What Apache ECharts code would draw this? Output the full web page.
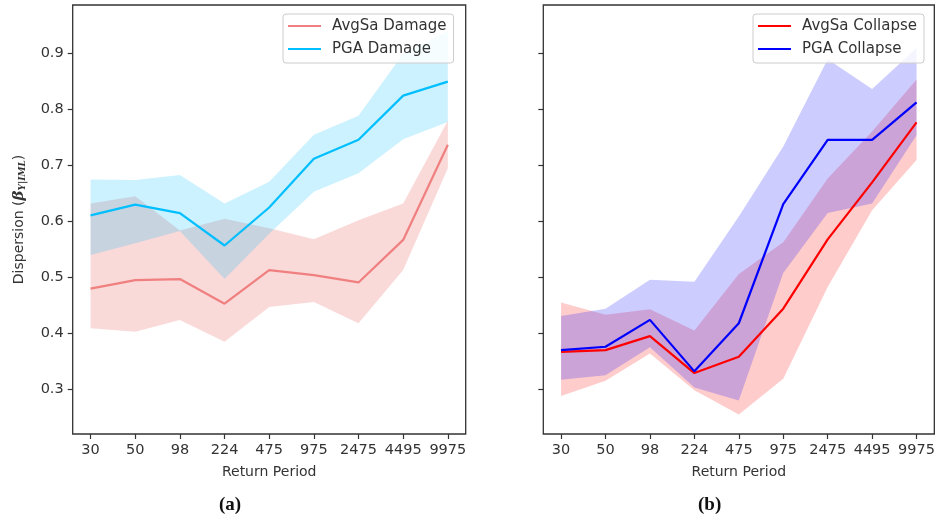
<!DOCTYPE html>
<html><head><meta charset="utf-8">
<script src="https://cdn.jsdelivr.net/npm/echarts@6/dist/echarts.min.js"></script>
<style>html,body{margin:0;padding:0;background:#fff}#c{width:938px;height:521px}</style>
</head><body><div id="c"></div>
<script>
const categories = ['30','50','98','224','475','975','2475','4495','9975'];
const yTicks = [0.3,0.4,0.5,0.6,0.7,0.8,0.9];
// Panel (a): damage
const avgsaDamage      = [0.480,0.495,0.497,0.453,0.513,0.504,0.491,0.567,0.737];
const avgsaDamageLow   = [0.409,0.403,0.424,0.385,0.447,0.456,0.418,0.513,0.695];
const avgsaDamageHigh  = [0.632,0.645,0.584,0.605,0.588,0.568,0.602,0.632,0.780];
const pgaDamage        = [0.611,0.630,0.615,0.557,0.625,0.712,0.746,0.825,0.850];
const pgaDamageLow     = [0.540,0.561,0.583,0.497,0.578,0.653,0.686,0.747,0.778];
const pgaDamageHigh    = [0.675,0.674,0.683,0.632,0.671,0.755,0.789,0.900,0.940];
// Panel (b): collapse
const avgsaCollapse     = [0.367,0.370,0.395,0.329,0.358,0.444,0.568,0.670,0.777];
const avgsaCollapseLow  = [0.288,0.315,0.364,0.298,0.255,0.319,0.483,0.620,0.710];
const avgsaCollapseHigh = [0.455,0.433,0.443,0.405,0.506,0.563,0.677,0.761,0.854];
const pgaCollapse       = [0.370,0.376,0.424,0.332,0.418,0.631,0.746,0.746,0.813];
const pgaCollapseLow    = [0.317,0.325,0.375,0.303,0.280,0.508,0.615,0.632,0.754];
const pgaCollapseHigh   = [0.431,0.444,0.496,0.492,0.609,0.734,0.890,0.837,0.910];

const FONT = '"DejaVu Sans", sans-serif';
const TXT = '#333';
const idx = categories.map((c, i) => i);
const pairs = arr => arr.map((v, i) => [i, v]);

function bandSeries(low, high, fill, gi) {
  return { type: 'custom', xAxisIndex: gi, yAxisIndex: gi, silent: true, z: 1,
    data: low.map((l, i) => [i, l, high[i]]),
    encode: { x: 0, y: [1, 2] },
    renderItem: (params, api) => {
      if (params.dataIndex !== 0) return null;
      const pts = [];
      for (let i = 0; i < low.length; i++) pts.push(api.coord([i, high[i]]));
      for (let i = low.length - 1; i >= 0; i--) pts.push(api.coord([i, low[i]]));
      return { type: 'polygon', shape: { points: pts }, style: { fill } };
    } };
}
function lineSeries(name, vals, color, gi) {
  return { type: 'line', name, xAxisIndex: gi, yAxisIndex: gi, data: pairs(vals), symbol: 'none',
    lineStyle: { color, width: 2.2 }, itemStyle: { color }, z: 5 };
}
function xAx(gi) {
  return { type: 'value', gridIndex: gi, min: -0.4, max: 8.4,
    name: 'Return Period', nameLocation: 'middle', nameGap: 31,
    nameTextStyle: { fontFamily: FONT, fontSize: 14, color: TXT },
    axisLine: { show: false, onZero: false }, splitLine: { show: false },
    axisTick: { show: true, customValues: idx, length: 5, lineStyle: { color: '#333', width: 1.2 } },
    axisLabel: { customValues: idx, formatter: v => categories[Math.round(v)], fontFamily: FONT, fontSize: 14.5, color: TXT, margin: 9 } };
}
function yAx(gi, withLabels) {
  const ax = { type: 'value', gridIndex: gi, min: 0.22, max: 0.987,
    axisLine: { show: false, onZero: false }, splitLine: { show: false },
    axisTick: { show: true, customValues: yTicks, length: 5, lineStyle: { color: '#333', width: 1.2 } },
    axisLabel: { show: withLabels, customValues: yTicks, formatter: v => v.toFixed(1), fontFamily: FONT, fontSize: 14.5, color: TXT, margin: 9 } };
  if (withLabels) {
    ax.name = '{n|Dispersion (}{b|β}{s|Y|IML}{n|)}';
    ax.nameLocation = 'middle';
    ax.nameGap = 46;
    ax.nameTextStyle = { rich: {
      n: { fontFamily: FONT, fontSize: 14, color: TXT },
      b: { fontFamily: '"DejaVu Serif", serif', fontSize: 15, fontStyle: 'italic', fontWeight: 'bold', color: TXT },
      s: { fontFamily: '"DejaVu Serif", serif', fontSize: 9, fontStyle: 'italic', fontWeight: 'bold', color: TXT, padding: [6, 0, 0, 0] }
    } };
  }
  return ax;
}
function legend(names, left) {
  return { data: names, orient: 'vertical', left, top: 14, icon: 'rect', itemWidth: 33, itemHeight: 2,
    itemGap: 7, padding: [4, 7, 6, 5], backgroundColor: 'rgba(255,255,255,0.8)', borderColor: '#ccc',
    borderWidth: 1, borderRadius: 3, z: 10,
    textStyle: { fontFamily: FONT, fontSize: 15, color: TXT, lineHeight: 16, padding: [0, 0, 0, 6] } };
}

const chart = echarts.init(document.getElementById('c'));
chart.setOption({
  backgroundColor: '#fff',
  animation: false,
  grid: [
    { left: 72.7, top: 5, width: 393, height: 429, show: true, borderColor: '#333', borderWidth: 1.3, backgroundColor: 'transparent' },
    { left: 543.3, top: 5, width: 392.4, height: 429, show: true, borderColor: '#333', borderWidth: 1.3, backgroundColor: 'transparent' }
  ],
  xAxis: [xAx(0), xAx(1)],
  yAxis: [yAx(0, true), yAx(1, false)],
  legend: [legend(['AvgSa Damage', 'PGA Damage'], 283), legend(['AvgSa Collapse', 'PGA Collapse'], 753)],
  series: [
    bandSeries(avgsaDamageLow, avgsaDamageHigh, 'rgba(240,128,128,0.3)', 0),
    bandSeries(pgaDamageLow, pgaDamageHigh, 'rgba(0,191,255,0.2)', 0),
    lineSeries('AvgSa Damage', avgsaDamage, '#F08080', 0),
    lineSeries('PGA Damage', pgaDamage, '#00BFFF', 0),
    bandSeries(avgsaCollapseLow, avgsaCollapseHigh, 'rgba(255,0,0,0.2)', 1),
    bandSeries(pgaCollapseLow, pgaCollapseHigh, 'rgba(0,0,255,0.2)', 1),
    lineSeries('AvgSa Collapse', avgsaCollapse, '#FF0000', 1),
    lineSeries('PGA Collapse', pgaCollapse, '#0000FF', 1)
  ],
  graphic: [
    { type: 'text', left: 219, top: 496, style: { text: '(a)', font: 'bold 19px "Liberation Serif", serif', fill: '#111' } },
    { type: 'text', left: 698, top: 496, style: { text: '(b)', font: 'bold 19px "Liberation Serif", serif', fill: '#111' } }
  ]
});
</script></body></html>
